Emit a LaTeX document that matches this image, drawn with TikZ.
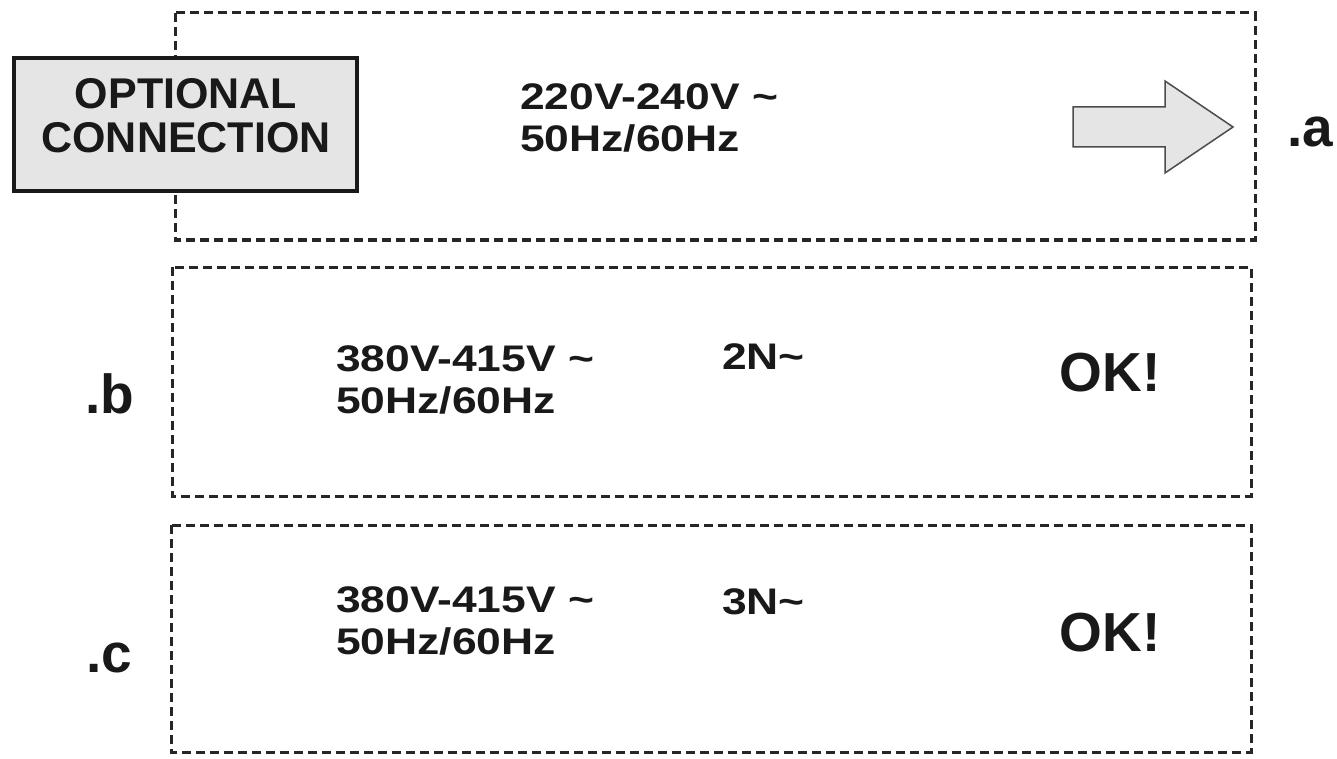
\documentclass[tikz,border=0pt]{standalone}
\usepackage{fontspec}
\setmainfont{Liberation Sans}
\newfontfamily\widesans[FakeStretch=1.2]{Liberation Sans}

\tikzset{
  dashbox/.style={draw=black!85, line width=3pt, dash pattern=on 9pt off 5pt},
  volts/.style={anchor=north west, inner sep=0pt, align=left, text=black!90,
    font=\widesans\bfseries\fontsize{37}{42}\selectfont},
  okmark/.style={anchor=north, inner sep=0pt, text=black!90,
    font=\bfseries\fontsize{55}{60}\selectfont},
  tag/.style={anchor=base west, inner sep=0pt, text=black!90,
    font=\bfseries\fontsize{55}{60}\selectfont},
}

\begin{document}
\begin{tikzpicture}[x=1pt,y=-1pt]
\useasboundingbox (0,0) rectangle (1337,759);
\draw [dashbox] (175,13) rectangle (1255,240);
\draw [dashbox] (172,267) rectangle (1251,496);
\draw [dashbox] (171,525) rectangle (1251,752);
%
\draw [line width=3.5pt, draw=black!90, fill=black!10] (14,58) rectangle (357,191);
\node [align=center, inner sep=0pt, text=black!90, font=\bfseries\fontsize{43}{44}\selectfont] (optional) at (186,116) {OPTIONAL\\CONNECTION};
\draw [draw=black!70, line width=1.5pt, fill=black!10] (1073,107) -- (1165,107) -- (1165,81) -- (1233,127) -- (1165,173) -- (1165,147) -- (1073,147) -- cycle;
%
\node [volts] (voltsA) at (520,83) {220V-240V \textasciitilde\\50Hz/60Hz};
\node [volts] (voltsB) at (336,345) {380V-415V \textasciitilde\\50Hz/60Hz};
\node [volts] (phaseB) at (722,343) {2N\textasciitilde};
\node [okmark] (okB) at (1110,353) {OK!};
\node [volts] (voltsC) at (336,586) {380V-415V \textasciitilde\\50Hz/60Hz};
\node [volts] (phaseC) at (722,588) {3N\textasciitilde};
\node [okmark] (okC) at (1110,613) {OK!};
%
\node [tag] (tagA) at (1287,147) {.a};
\node [tag] (tagB) at (85,413) {.b};
\node [tag] (tagC) at (86,672) {.c};
%
\end{tikzpicture}
\end{document}
